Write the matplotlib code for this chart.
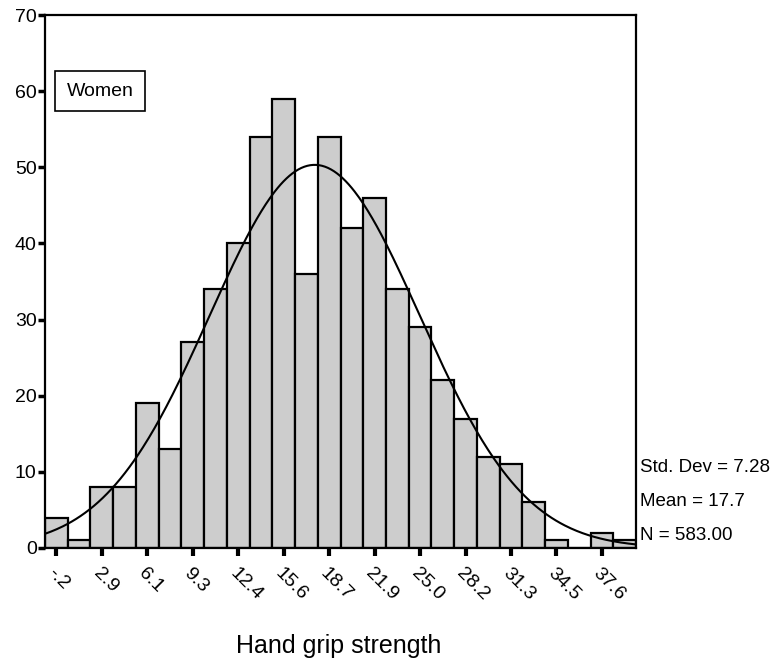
import numpy as np
import matplotlib
matplotlib.use("Agg")
import matplotlib.pyplot as plt

plt.rcParams['font.family'] = ['Liberation Sans', 'DejaVu Sans']

# bin centres (SPSS style, every other one labelled)
bin_centres = [-0.2, 1.375, 2.95, 4.525, 6.1, 7.675, 9.25, 10.825, 12.4, 13.975,
               15.55, 17.125, 18.7, 20.275, 21.85, 23.425, 25.0, 26.575, 28.15,
               29.725, 31.3, 32.875, 34.45, 36.025, 37.6, 39.175]
counts = [4, 1, 8, 8, 19, 13, 27, 34, 40, 54, 59, 36, 54, 42, 46, 34, 29, 22,
          17, 12, 11, 6, 1, 0, 2, 1]
tick_labels = ['-.2', '2.9', '6.1', '9.3', '12.4', '15.6', '18.7', '21.9',
               '25.0', '28.2', '31.3', '34.5', '37.6']
std_dev = 7.28
mean = 17.7
n_total = 583.00
bin_w = 1.575

fig = plt.figure(figsize=(7.82, 6.64), dpi=100)
ax = fig.add_axes([45 / 782, 116 / 664, 591 / 782, 533 / 664])

ax.bar(bin_centres, counts, width=bin_w, align='center',
       color='#cdcdcd', edgecolor='black', linewidth=1.6, zorder=2)

# courbe normale a partir des stats affichees
x0 = bin_centres[0] - bin_w / 2
x1 = bin_centres[-1] + bin_w / 2
xs = np.linspace(x0, x1, 400)
ys = n_total * bin_w / (std_dev * np.sqrt(2 * np.pi)) * np.exp(-0.5 * ((xs - mean) / std_dev) ** 2)
ax.plot(xs, ys, color='black', linewidth=1.5, zorder=3)

ax.set_xlim(x0, x1)
ax.set_ylim(0, 70)
ax.set_yticks(range(0, 71, 10))
ax.set_yticklabels([str(v) for v in range(0, 71, 10)], fontsize=14)
ax.set_xticks(bin_centres[::2])
ax.set_xticklabels(tick_labels, rotation=-45, ha='left', va='top',
                   rotation_mode='anchor', fontsize=14)
ax.tick_params(axis='y', direction='out', length=5, width=2.5, pad=1)
ax.tick_params(axis='x', direction='out', length=6, width=3, pad=6)
for s in ax.spines.values():
    s.set_linewidth(1.6)

fig.text(339 / 782, 1 - 646 / 664, 'Hand grip strength', fontsize=18,
         ha='center', va='center')

ax.text(0.037, 0.857, 'Women', transform=ax.transAxes, fontsize=14,
        ha='left', va='center',
        bbox=dict(boxstyle='square,pad=0.6', facecolor='white',
                  edgecolor='black', linewidth=1.2))

fig.text(640 / 782, 1 - 467 / 664, 'Std. Dev = %.2f' % std_dev, fontsize=13.5, va='center')
fig.text(640 / 782, 1 - 502 / 664, 'Mean = %.1f' % mean, fontsize=13.5, va='center')
fig.text(640 / 782, 1 - 536 / 664, 'N = %.2f' % n_total, fontsize=13.5, va='center')

fig.savefig('out.png', dpi=100)
